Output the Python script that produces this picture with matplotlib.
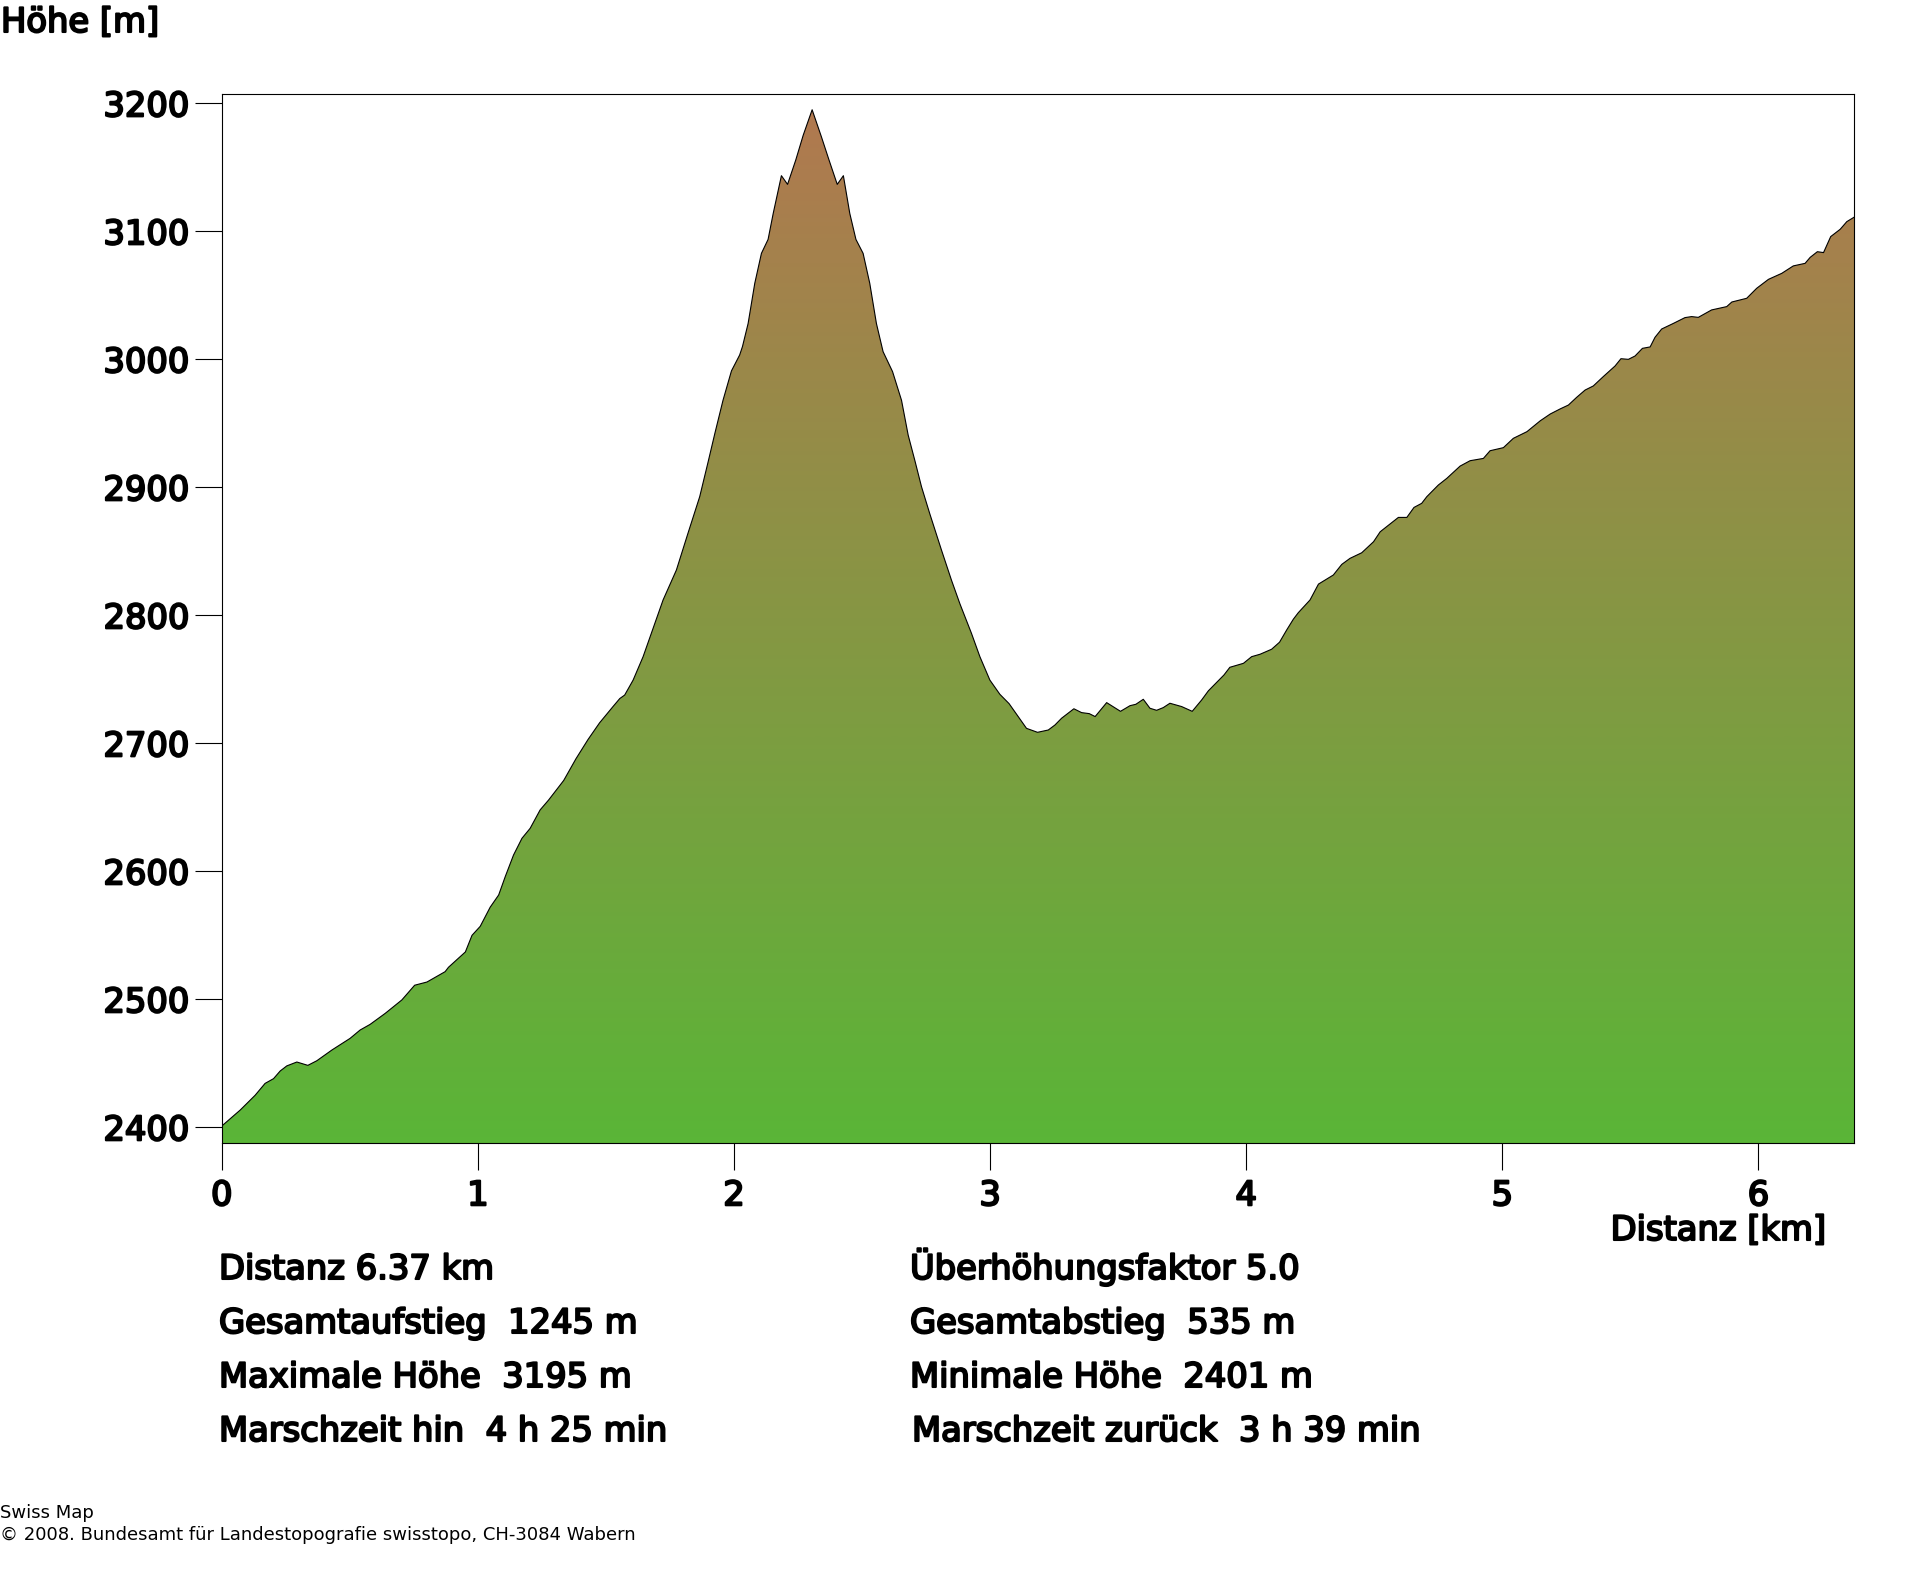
import matplotlib
matplotlib.use("Agg")
import matplotlib.pyplot as plt
import matplotlib.patheffects as pe
import numpy as np
from matplotlib.colors import LinearSegmentedColormap
from matplotlib.patches import Polygon

# profile: distance [km], altitude [m]
dist = [0.000, 0.072, 0.130, 0.169, 0.202, 0.228, 0.254, 0.293, 0.336, 0.371,
        0.430, 0.501, 0.540, 0.579, 0.638, 0.703, 0.753, 0.801, 0.872, 0.885,
        0.951, 0.977, 1.009, 1.048, 1.081, 1.107, 1.139, 1.172, 1.204, 1.243,
        1.276, 1.335, 1.383, 1.430, 1.475, 1.527, 1.554, 1.573, 1.606, 1.645,
        1.677, 1.723, 1.775, 1.820, 1.866, 1.899, 1.925, 1.957, 1.990, 2.022,
        2.033, 2.055, 2.081, 2.107, 2.133, 2.153, 2.185, 2.209, 2.241, 2.270,
        2.305, 2.341, 2.371, 2.403, 2.427, 2.452, 2.476, 2.504, 2.530, 2.556,
        2.582, 2.619, 2.654, 2.680, 2.706, 2.732, 2.764, 2.810, 2.849, 2.882,
        2.927, 2.960, 2.999, 3.038, 3.074, 3.142, 3.185, 3.227, 3.253, 3.279,
        3.327, 3.357, 3.387, 3.410, 3.455, 3.509, 3.546, 3.569, 3.598, 3.624,
        3.650, 3.676, 3.702, 3.748, 3.789, 3.826, 3.852, 3.913, 3.936, 3.989,
        4.021, 4.054, 4.099, 4.130, 4.158, 4.184, 4.203, 4.249, 4.282, 4.340,
        4.373, 4.405, 4.451, 4.497, 4.523, 4.594, 4.627, 4.655, 4.685, 4.705,
        4.750, 4.783, 4.835, 4.874, 4.926, 4.952, 5.004, 5.043, 5.096, 5.148,
        5.187, 5.225, 5.258, 5.290, 5.323, 5.355, 5.394, 5.440, 5.463, 5.492,
        5.518, 5.547, 5.577, 5.596, 5.622, 5.668, 5.713, 5.739, 5.765, 5.817,
        5.876, 5.896, 5.954, 5.993, 6.039, 6.091, 6.136, 6.182, 6.202, 6.230,
        6.254, 6.282, 6.319, 6.345, 6.373]
alt = [2401, 2413.5, 2425, 2434.3, 2438, 2444, 2448, 2451, 2448.4, 2452,
       2460.4, 2469.5, 2476, 2480.4, 2489, 2499.5, 2511, 2513.5, 2521.6, 2525,
       2537, 2550, 2557, 2572, 2581.5, 2596, 2612.7, 2625.8, 2633.6, 2648,
       2655.7, 2671, 2688, 2703, 2716, 2728.6, 2735, 2737.7, 2749.4, 2767.7,
       2785.9, 2812, 2835.4, 2864, 2892.7, 2920, 2942, 2968, 2991, 3003.4,
       3010, 3028, 3059.4, 3082.8, 3093.7, 3114, 3143.5, 3136.7, 3155.7, 3175,
       3195, 3174, 3155.7, 3136.7, 3143.5, 3114, 3093.7, 3082.8, 3059.4, 3028,
       3006, 2990.4, 2968, 2940.8, 2921, 2900.5, 2879.6, 2851, 2827.5, 2809,
       2786, 2767.7, 2749.4, 2738.3, 2731, 2711.7, 2708.6, 2710.4, 2714.3, 2719.6,
       2727, 2724, 2723.2, 2720.9, 2731.8, 2725, 2729.4, 2730.5, 2734.4, 2727.4,
       2725.8, 2727.9, 2731.3, 2728.7, 2725, 2733.9, 2741, 2753.4, 2759.4, 2762.5,
       2767.7, 2769.6, 2773.5, 2779, 2788.6, 2797, 2802, 2812, 2824.4, 2831.5,
       2839.8, 2844.5, 2848.9, 2857.5, 2865.3, 2876.5, 2876.5, 2884.3, 2887.5, 2892.7,
       2901.8, 2907, 2916.6, 2920.8, 2922.6, 2928.6, 2931, 2938.3, 2943.5, 2952,
       2957.3, 2961.2, 2964.3, 2970.3, 2976, 2979.2, 2986.5, 2994.8, 3000.5, 3000,
       3002.6, 3008.6, 3009.7, 3017.2, 3023.7, 3028.1, 3032.6, 3033.4, 3032.8, 3038.6,
       3041.2, 3044.8, 3047.7, 3055.5, 3062.5, 3067.2, 3073, 3075, 3079.7, 3084.1,
       3083.4, 3095.9, 3101.6, 3107.6, 3111]

xticks = [0, 1, 2, 3, 4, 5, 6]
yticks = [2400, 2500, 2600, 2700, 2800, 2900, 3000, 3100, 3200]

stats_left = ["Distanz 6.37 km", "Gesamtaufstieg  1245 m",
              "Maximale Höhe  3195 m", "Marschzeit hin  4 h 25 min"]
stats_right = ["Überhöhungsfaktor 5.0", "Gesamtabstieg  535 m",
               "Minimale Höhe  2401 m", "Marschzeit zurück  3 h 39 min"]
stats_right_x = [910, 910, 910, 912]
stats_y = [1279, 1333, 1387, 1441]

W, H = 1920, 1572
FS = 24.3
# the labels look like a regular face thickened by the renderer
heavy = [pe.withStroke(linewidth=1.5, foreground="black")]


def put(x, y, s, **kw):
    # position in pixels of the image, y from the top
    return fig.text(x / W, 1 - y / H, s, va="baseline", **kw)


fig = plt.figure(figsize=(W / 100, H / 100), dpi=100, facecolor="white")
ax = fig.add_axes([221.8 / W, 1 - 1143.3 / H, (1854 - 221.8) / W, (1143.3 - 93.5) / H])

xmax = 6.373
ymin, ymax = 2387.5, 3207.7

# green at the valley, brown at the top
cmap = LinearSegmentedColormap.from_list("relief", ["#5AB537", "#B27850"])
grad = np.linspace(0, 1, 256).reshape(-1, 1)
im = ax.imshow(grad, origin="lower", aspect="auto", cmap=cmap,
               extent=[0, xmax, ymin, ymax], interpolation="bilinear")
outline = Polygon(list(zip(dist, alt)) + [(xmax, ymin), (0, ymin)],
                  closed=True, fc="none", ec="none", transform=ax.transData)
ax.add_patch(outline)
im.set_clip_path(outline)
ax.plot(dist, alt, color="black", lw=0.8)

ax.set_xlim(0, xmax)
ax.set_ylim(ymin, ymax)
ax.set_xticks(xticks)
ax.set_yticks(yticks)
ax.tick_params(axis="x", length=19.4, width=0.8, pad=6.5, labelsize=FS)
ax.tick_params(axis="y", length=19.4, width=0.8, pad=3.9, labelsize=FS)
for lab in ax.get_xticklabels() + ax.get_yticklabels():
    lab.set_path_effects(heavy)
for sp in ax.spines.values():
    sp.set_linewidth(0.8)

put(1, 32, "Höhe [m]", fontsize=FS, path_effects=heavy)
put(1826, 1240, "Distanz [km]", fontsize=FS, ha="right", path_effects=heavy)

for s, y in zip(stats_left, stats_y):
    put(219, y, s, fontsize=FS, path_effects=heavy)
for s, x, y in zip(stats_right, stats_right_x, stats_y):
    put(x, y, s, fontsize=FS, path_effects=heavy)

put(0, 1518, "Swiss Map", fontsize=12.95)
put(0, 1540, "© 2008. Bundesamt für Landestopografie swisstopo, CH-3084 Wabern", fontsize=12.95)

fig.savefig("out.png", dpi=100)
